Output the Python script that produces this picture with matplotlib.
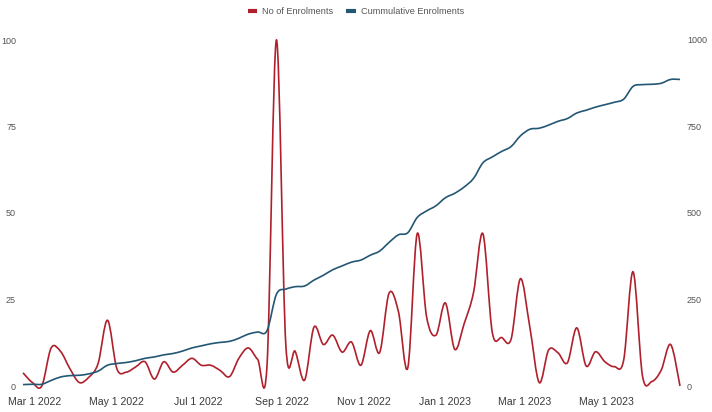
import matplotlib
matplotlib.use("Agg")
import matplotlib.pyplot as plt
import matplotlib.dates as mdates
from matplotlib.path import Path
from matplotlib.patches import PathPatch
from matplotlib.lines import Line2D
import numpy as np
import pandas as pd

plt.rcParams['font.family'] = ['Liberation Sans', 'DejaVu Sans']

# weekly points, Feb 20 2022 .. Jun 25 2023
weeks = pd.date_range('2022-02-20', periods=71, freq='7D')

enrolments = [
    3.8, 1, 0, 11, 10, 5, 1, 2.5, 6.5, 19,
    5, 4, 5.5, 7, 2, 7, 4, 6, 8, 6,
    6, 4.5, 2.7, 8, 11, 7.7, 6, 100, 12, 10,
    1.7, 17, 12, 14.7, 9.8, 12.7, 6, 16, 9.7, 26.8,
    21.5, 5.3, 44, 20, 14.7, 24, 10.6, 18, 27, 44,
    15.5, 14, 13.5, 31, 17, 1, 10.4, 9.6, 6.7, 16.8,
    5.8, 9.9, 7, 5.6, 7.5, 33, 3, 1.3, 4.6, 12,
    0,
]

cumulative = [
    4, 5, 5, 16, 26, 30, 31, 35, 43, 60,
    65, 68, 73, 80, 84, 90, 94, 101, 110, 116,
    122, 126, 129, 138, 150, 156, 160, 265, 280, 287,
    289, 306, 320, 336, 347, 358, 364, 378, 390, 415,
    437, 443, 487, 506, 521, 544, 557, 575, 600, 645,
    662, 678, 692, 723, 742, 745, 754, 765, 773, 789,
    797, 806, 813, 820, 829, 866, 871, 872, 875, 886,
    886,
]

tick_dates = pd.to_datetime(['2022-03-01', '2022-05-01', '2022-07-01', '2022-09-01',
                             '2022-11-01', '2023-01-01', '2023-03-01', '2023-05-01'])

red = '#b0202c'
blue = '#235774'


def smooth_path(x, y):
    # catmull-rom through the points, drawn as cubic bezier segments
    x = np.asarray(x, float)
    y = np.asarray(y, float)
    px = np.concatenate([[x[0]], x, [x[-1]]])
    py = np.concatenate([[y[0]], y, [y[-1]]])
    verts = [(x[0], y[0])]
    codes = [Path.MOVETO]
    for i in range(1, len(px) - 2):
        c1 = (px[i] + (px[i + 1] - px[i - 1]) / 6, py[i] + (py[i + 1] - py[i - 1]) / 6)
        c2 = (px[i + 1] - (px[i + 2] - px[i]) / 6, py[i + 1] - (py[i + 2] - py[i]) / 6)
        verts += [c1, c2, (px[i + 1], py[i + 1])]
        codes += [Path.CURVE4] * 3
    return Path(verts, codes)


fig = plt.figure(figsize=(7.12, 4.12), dpi=100)
ax = fig.add_axes([23 / 712, 26 / 412, 657 / 712, 346 / 412])
ax2 = ax.twinx()

xnum = mdates.date2num(weeks)
ax.add_patch(PathPatch(smooth_path(xnum, enrolments), fill=False, edgecolor=red,
                       lw=1.2, transform=ax.transData, clip_on=False, zorder=3))
ax2.add_patch(PathPatch(smooth_path(xnum, cumulative), fill=False, edgecolor=blue,
                        lw=1.2, transform=ax2.transData, clip_on=False, zorder=2))

ax.set_xlim(xnum[0], xnum[-1])
ax.set_ylim(0, 100)
ax2.set_ylim(0, 1000)
ax.set_yticks([0, 25, 50, 75, 100])
ax2.set_yticks([0, 250, 500, 750, 1000])

ax.set_xticks(mdates.date2num(tick_dates))
ax.set_xticklabels([f"{d:%b} {d.day} {d:%Y}" for d in tick_dates])

for a in (ax, ax2):
    for s in a.spines.values():
        s.set_visible(False)
    a.tick_params(length=0)
ax.tick_params(axis='x', labelsize=7.6, labelcolor='#3a3a3a', pad=8)
ax.tick_params(axis='y', labelsize=6.5, labelcolor='#555555', pad=5)
ax2.tick_params(axis='y', labelsize=6.5, labelcolor='#555555', pad=5)

handles = [Line2D([], [], color=red, lw=3, solid_capstyle='butt'),
           Line2D([], [], color=blue, lw=3, solid_capstyle='butt')]
fig.legend(handles, ['No of Enrolments', 'Cummulative Enrolments'], loc='center',
           bbox_to_anchor=(0.5, 1 - 12 / 412), ncol=2, frameon=False, fontsize=6.6,
           handlelength=1.0, handletextpad=0.6, columnspacing=1.4, labelcolor='#555555')

fig.savefig('out.png', dpi=100)
